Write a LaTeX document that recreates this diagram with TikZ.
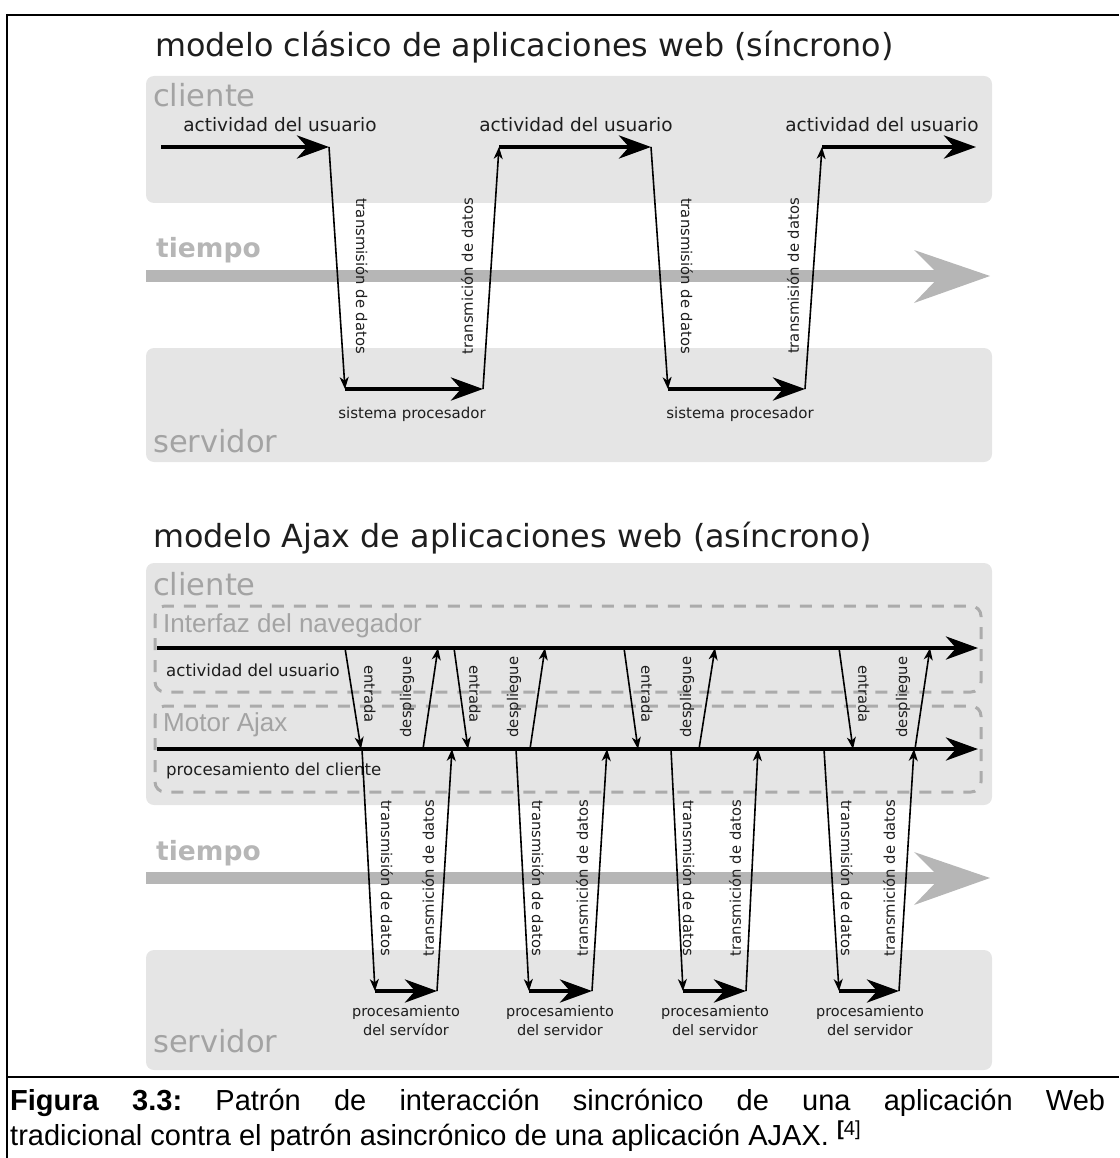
\documentclass[tikz,border=0pt]{standalone}
\usepackage{graphicx}
\usepackage{fontspec}
\setmainfont{DejaVu Sans}
\newfontfamily\capfont{Liberation Sans}
\newfontfamily\boxfont{Liberation Sans}
\usetikzlibrary{arrows.meta}

\definecolor{lanefill}{HTML}{E5E5E5}
\definecolor{lanetext}{HTML}{A3A3A3}
\definecolor{timegray}{HTML}{B6B6B6}
\definecolor{dashgray}{HTML}{ABABAB}
\definecolor{inktext}{HTML}{1E1E1E}

\tikzset{
  lane/.style={fill=lanefill, rounded corners=8pt},
  dashbox/.style={draw=dashgray, line width=3pt, dash pattern=on 12pt off 10pt, rounded corners=10pt},
  lanelabel/.style={anchor=base west, inner sep=0, text=lanetext, font=\fontsize{30.5}{36}\selectfont},
  timelabel/.style={anchor=base west, inner sep=0, text=timegray, font=\bfseries\fontsize{26.5}{32}\selectfont},
  sublabel/.style={anchor=base west, inner sep=0, text=lanetext, font=\boxfont\fontsize{26}{31}\selectfont},
  titlelabel/.style={anchor=base west, inner sep=0, text=inktext, font=\fontsize{31.8}{38}\selectfont},
  actlabel/.style={anchor=base, inner sep=0, text=inktext, font=\fontsize{18.5}{22}\selectfont},
  rowlabel/.style={anchor=base west, inner sep=0, text=inktext, font=\fontsize{16.6}{20}\selectfont},
  proclabel/.style={anchor=base, inner sep=0, text=inktext, font=\fontsize{15}{18}\selectfont},
  srvlabel/.style={anchor=base, inner sep=0, text=inktext, align=center, font=\fontsize{14.5}{19}\selectfont},
  vlabel/.style={inner sep=0, text=inktext, font=\fontsize{14.8}{18}\selectfont},
  bigarrow/.style={line width=4.5pt, -{Stealth[length=32pt,width=23pt,inset=10pt]}},
  thinarrow/.style={line width=1.6pt, -{Stealth[length=12pt,width=9pt,inset=3.5pt]}},
  timebar/.style={fill=timegray},
  capline/.style={anchor=base west, inner sep=0, font=\capfont\fontsize{29}{35}\selectfont},
}

\begin{document}
\begin{tikzpicture}[x=1pt,y=-1pt]
\useasboundingbox (0,0) rectangle (1119,1158);

% ---------- frame ----------
\draw[line width=1.3pt] (7,15) -- (1119,15);
\draw[line width=2.2pt] (6,15) -- (143,15);
\draw[line width=2.2pt] (1000,15) -- (1119,15);
\draw[line width=1.5pt] (7,14) -- (7,1158);
\draw[line width=1.5pt] (7,1077) -- (1119,1077);

% ================= classic (synchronous) model =================
\node[titlelabel] (title1) at (155,57) {modelo clásico de aplicaciones web (síncrono)};

\fill[lane] (146,76) rectangle (992,203);
\fill[lane] (146,348) rectangle (992,462);
\node[lanelabel] (cli1) at (153,107) {cliente};
\node[lanelabel] (srv1) at (153,452) {servidor};

% time axis
\node[timelabel] (tie1) at (156,258) {tiempo};
\fill[timebar] (146,270) rectangle (945,282);
\fill[timebar] (914,250) -- (990,276) -- (914,303) -- (940,276) -- cycle;

% anchor points of the request/response cycle
\coordinate (a1s) at (161,147);
\coordinate (a1e) at (329,147);
\coordinate (p1s) at (345,389);
\coordinate (p1e) at (483,389);
\coordinate (a2s) at (499,147);
\coordinate (a2e) at (651,147);
\coordinate (p2s) at (668,389);
\coordinate (p2e) at (805,389);
\coordinate (a3s) at (822,147);
\coordinate (a3e) at (976,147);

\draw[bigarrow] (a1s) -- (a1e);
\draw[thinarrow] (a1e) -- (p1s);
\draw[bigarrow] (p1s) -- (p1e);
\draw[thinarrow] (p1e) -- (a2s);
\draw[bigarrow] (a2s) -- (a2e);
\draw[thinarrow] (a2e) -- (p2s);
\draw[bigarrow] (p2s) -- (p2e);
\draw[thinarrow] (p2e) -- (a3s);
\draw[bigarrow] (a3s) -- (a3e);

\node[actlabel] (act1) at (280,132) {actividad del usuario};
\node[actlabel] (act2) at (576,132) {actividad del usuario};
\node[actlabel] (act3) at (882,132) {actividad del usuario};

\node[vlabel, rotate=-90] (td1) at (362,276) {transmisión de datos};
\node[vlabel, rotate=90]  (tu1) at (467,276) {transmición de datos};
\node[vlabel, rotate=-90] (td2) at (687,276) {transmisión de datos};
\node[vlabel, rotate=90]  (tu2) at (793,276) {transmisión de datos};

\node[proclabel] (sp1) at (412,418) {sistema procesador};
\node[proclabel] (sp2) at (740,418) {sistema procesador};

% ================= Ajax (asynchronous) model =================
\node[titlelabel] (title2) at (153,547) {modelo Ajax de aplicaciones web (asíncrono)};

\fill[lane] (146,563) rectangle (992,805);
\fill[lane] (146,950) rectangle (992,1070);
\node[lanelabel] (cli2) at (153,595) {cliente};
\node[lanelabel] (srv2) at (153,1052) {servidor};

\draw[dashbox] (155,606) rectangle (981,692);
\draw[dashbox] (155,706) rectangle (981,792);
\node[sublabel] (nav) at (163,632) {Interfaz del navegador};
\node[sublabel] (eng) at (163,731) {Motor Ajax};
\node[rowlabel] (act4) at (166,676) {actividad del usuario};
\node[rowlabel] (cproc) at (166,775) {procesamiento del cliente};

% time axis
\node[timelabel] (tie2) at (156,860) {tiempo};
\fill[timebar] (146,872) rectangle (945,884);
\fill[timebar] (914,852) -- (990,878) -- (914,905) -- (940,878) -- cycle;

% browser and engine timelines
\coordinate (ui0) at (157,648);
\coordinate (ui1) at (978,648);
\coordinate (en0) at (157,749);
\coordinate (en1) at (978,749);
\draw[bigarrow] (ui0) -- (ui1);
\draw[bigarrow] (en0) -- (en1);

% input (entrada) and display (despliegue) between browser and engine
\coordinate (e1t) at (345,648); \coordinate (e1b) at (361,749);
\coordinate (e2t) at (454,648); \coordinate (e2b) at (468,749);
\coordinate (e3t) at (624,648); \coordinate (e3b) at (638,749);
\coordinate (e4t) at (839,648); \coordinate (e4b) at (853,749);
\coordinate (d1b) at (423,749); \coordinate (d1t) at (438,648);
\coordinate (d2b) at (530,749); \coordinate (d2t) at (545,648);
\coordinate (d3b) at (699,749); \coordinate (d3t) at (715,648);
\coordinate (d4b) at (915,749); \coordinate (d4t) at (930,648);

\draw[thinarrow] (e1t) -- (e1b);
\draw[thinarrow] (e2t) -- (e2b);
\draw[thinarrow] (e3t) -- (e3b);
\draw[thinarrow] (e4t) -- (e4b);
\draw[thinarrow] (d1b) -- (d1t);
\draw[thinarrow] (d2b) -- (d2t);
\draw[thinarrow] (d3b) -- (d3t);
\draw[thinarrow] (d4b) -- (d4t);

\node[vlabel, rotate=-90] (le1) at (370,694) {entrada};
\node[vlabel, rotate=-90] (le2) at (475,694) {entrada};
\node[vlabel, rotate=-90] (le3) at (647,694) {entrada};
\node[vlabel, rotate=-90] (le4) at (864,694) {entrada};
\node[vlabel, rotate=90] (ld1) at (407,697) {despliegue};
\node[vlabel, rotate=90] (ld2) at (514,697) {despliegue};
\node[vlabel, rotate=90] (ld3) at (687,697) {despliegue};
\node[vlabel, rotate=90] (ld4) at (903,697) {despliegue};

% engine <-> server exchanges
\coordinate (r1t) at (362,749); \coordinate (q1s) at (375,991); \coordinate (q1e) at (437,991); \coordinate (b1t) at (452,749);
\coordinate (r2t) at (516,749); \coordinate (q2s) at (529,991); \coordinate (q2e) at (592,991); \coordinate (b2t) at (607,749);
\coordinate (r3t) at (671,749); \coordinate (q3s) at (683,991); \coordinate (q3e) at (746,991); \coordinate (b3t) at (758,749);
\coordinate (r4t) at (824,749); \coordinate (q4s) at (839,991); \coordinate (q4e) at (899,991); \coordinate (b4t) at (914,749);

\foreach \k in {1,2,3,4}{
  \draw[thinarrow] (r\k t) -- (q\k s);
  \draw[bigarrow] (q\k s) -- (q\k e);
  \draw[thinarrow] (q\k e) -- (b\k t);
}

\node[vlabel, rotate=-90] (sd1) at (387,878) {transmisión de datos};
\node[vlabel, rotate=-90] (sd2) at (538,878) {transmisión de datos};
\node[vlabel, rotate=-90] (sd3) at (689,878) {transmisión de datos};
\node[vlabel, rotate=-90] (sd4) at (847,878) {transmisión de datos};
\node[vlabel, rotate=90] (su1) at (428,878) {transmición de datos};
\node[vlabel, rotate=90] (su2) at (582,878) {transmición de datos};
\node[vlabel, rotate=90] (su3) at (735,878) {transmición de datos};
\node[vlabel, rotate=90] (su4) at (889,878) {transmición de datos};

% server processing captions (base anchor sits on the last line)
\node[srvlabel] (sv1) at (406,1035) {procesamiento\\del servídor};
\node[srvlabel] (sv2) at (560,1035) {procesamiento\\del servidor};
\node[srvlabel] (sv3) at (715,1035) {procesamiento\\del servidor};
\node[srvlabel] (sv4) at (870,1035) {procesamiento\\del servidor};

% ================= caption =================
\node[capline] (cap1) at (10,1110)
  {\hbox to 1095pt{\textbf{Figura}\hfill\textbf{3.3:}\hfill Patrón\hfill de\hfill interacción\hfill sincrónico\hfill de\hfill una\hfill aplicación\hfill Web}};
\node[capline] (cap2) at (10,1145)
  {tradicional contra el patrón asincrónico de una aplicación AJAX. \textsuperscript{\textbf{[}4]}};
\end{tikzpicture}
\end{document}
